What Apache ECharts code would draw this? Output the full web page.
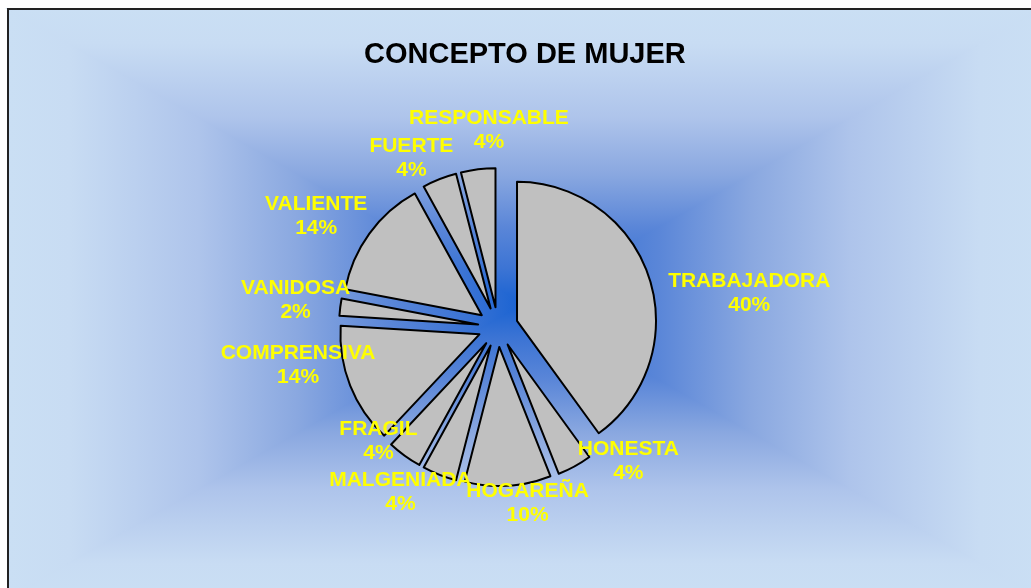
<!DOCTYPE html>
<html>
<head>
<meta charset="utf-8">
<title>CONCEPTO DE MUJER</title>
<script src="https://cdn.jsdelivr.net/npm/echarts@6/dist/echarts.min.js"></script>
<style>
  body { margin: 0; background: #fff; }
  #main { width: 1031px; height: 588px; }
</style>
</head>
<body>
<div id="main"></div>
<script>
// datos del gráfico
let categories = ['TRABAJADORA', 'HONESTA', 'HOGAREÑA', 'MALGENIADA', 'FRAGIL', 'COMPRENSIVA', 'VANIDOSA', 'VALIENTE', 'FUERTE', 'RESPONSABLE']
let values = [40, 4, 10, 4, 4, 14, 2, 14, 4, 4]

// ajustes de posición de las etiquetas (estilo Excel "mejor ajuste")
let labelNudge = [[61, 28], [34, -41], [17, -23], [-24, -21], [-2, -48], [-14, -35], [-4, -2], [-20, 7], [-13, 17], [16, 2]]

let pieCenter = [498, 327]
let pieRadius = 139
let labelDist = 200

// área del gráfico con degradado rectangular desde el centro
let area = { x0: 8, y0: 9, x1: 1041, y1: 598 }
let cx = (area.x0 + area.x1) / 2
let cy = (area.y0 + area.y1) / 2
let stops = [
  { offset: 0, color: '#cadff4' },
  { offset: 0.12, color: '#c8dcf3' },
  { offset: 0.37, color: '#aec4eb' },
  { offset: 0.56, color: '#8aa8e0' },
  { offset: 0.74, color: '#5a86d8' },
  { offset: 0.88, color: '#3c74d4' },
  { offset: 1, color: '#1862d2' },
]
function grad(x, y, x2, y2) {
  return { type: 'linear', x, y, x2, y2, colorStops: stops }
}
// el trazo con el mismo degradado tapa las juntas entre triángulos
function tri(points, g) {
  return { type: 'polygon', z: -10, silent: true, shape: { points }, style: { fill: g, stroke: g, lineWidth: 1.5 } }
}

let myChart = echarts.init(document.getElementById('main'))

let pieData = categories.map((name, i) => ({ name, value: values[i], selected: true }))
let labelData = categories.map((name, i) => ({ name, value: values[i] }))

let total = values.reduce((a, b) => a + b, 0)
function midAngle(i) {
  let before = values.slice(0, i).reduce((a, b) => a + b, 0)
  return ((before + values[i] / 2) / total) * Math.PI * 2
}

let sliceStyle = { color: '#c0c0c0', borderColor: '#000', borderWidth: 2 }

let option = {
  animation: false,
  title: {
    text: 'CONCEPTO DE MUJER',
    left: 364,
    top: 40,
    padding: 0,
    textStyle: {
      fontFamily: 'Liberation Sans, Arial, sans-serif',
      fontWeight: 'bold',
      fontSize: 29,
      color: '#000',
    },
  },
  graphic: [
    tri([[area.x0, area.y0], [area.x0, area.y1], [cx, cy]], grad(0, 0, 1, 0)),
    tri([[area.x1, area.y0], [area.x1, area.y1], [cx, cy]], grad(1, 0, 0, 0)),
    tri([[area.x0, area.y0], [area.x1, area.y0], [cx, cy]], grad(0, 0, 0, 1)),
    tri([[area.x0, area.y1], [area.x1, area.y1], [cx, cy]], grad(0, 1, 0, 0)),
    {
      type: 'rect',
      z: -5,
      silent: true,
      shape: { x: area.x0, y: area.y0, width: area.x1 - area.x0, height: area.y1 - area.y0 },
      style: { fill: 'none', stroke: '#222', lineWidth: 2 },
    },
  ],
  series: [
    {
      // porciones separadas
      type: 'pie',
      center: pieCenter,
      radius: [0, pieRadius],
      startAngle: 90,
      selectedMode: 'multiple',
      selectedOffset: 20,
      avoidLabelOverlap: false,
      itemStyle: sliceStyle,
      select: { itemStyle: sliceStyle, label: { show: false } },
      emphasis: { disabled: true },
      label: { show: false },
      labelLine: { show: false },
      data: pieData,
    },
    {
      // sólo etiquetas
      type: 'pie',
      center: pieCenter,
      radius: [0, pieRadius],
      startAngle: 90,
      silent: true,
      avoidLabelOverlap: false,
      itemStyle: { color: 'rgba(0,0,0,0)', borderWidth: 0 },
      emphasis: { disabled: true },
      labelLine: { show: false },
      label: {
        show: true,
        position: 'outside',
        formatter: (p) => p.name + '\n' + Math.round(p.percent) + '%',
        color: '#ffff00',
        fontFamily: 'Liberation Sans, Arial, sans-serif',
        fontWeight: 'bold',
        fontSize: 21,
        lineHeight: 24,
        align: 'center',
      },
      labelLayout: function (params) {
        let i = params.dataIndex
        let a = midAngle(i)
        return {
          x: pieCenter[0] + Math.sin(a) * labelDist + labelNudge[i][0],
          y: pieCenter[1] - Math.cos(a) * labelDist + labelNudge[i][1],
          align: 'center',
          verticalAlign: 'middle',
        }
      },
      data: labelData,
    },
  ],
}

myChart.setOption(option)
</script>
</body>
</html>
